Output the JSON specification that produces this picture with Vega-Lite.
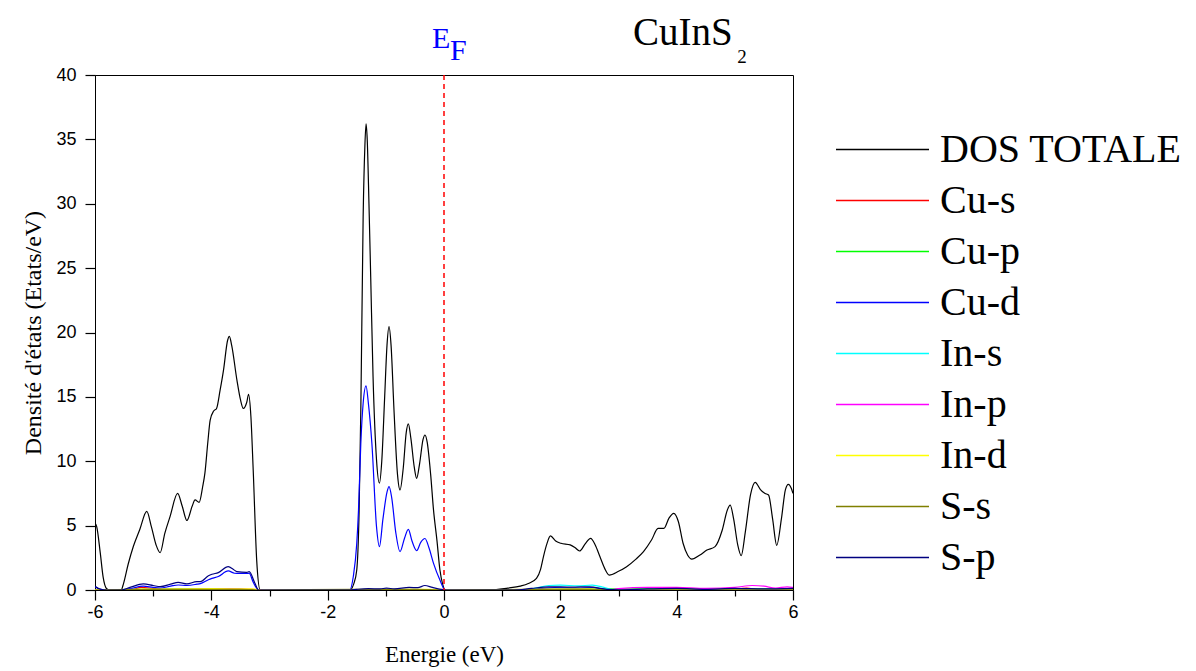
{
"$schema":"https://vega.github.io/schema/vega-lite/v6.json",
"width":698,"height":515,
"autosize":{"type":"none"},
"padding":{"left":95,"top":75,"right":403,"bottom":81},
"background":"white",
"config":{"view":{"stroke":"black","strokeWidth":1},"axis":{"grid":false,"domainColor":"black","tickColor":"black","labelColor":"black","titleColor":"black","labelFont":"Liberation Sans","labelFontSize":18,"titleFont":"Liberation Serif","titleFontSize":23,"titleFontWeight":"normal","domainWidth":1,"tickWidth":1.2}},
"datasets":{"dos":[
{"s":"DOS TOTALE","E":-6,"v":5.2},{"s":"DOS TOTALE","E":-5.97,"v":4.9},{"s":"DOS TOTALE","E":-5.91,"v":2.9},{"s":"DOS TOTALE","E":-5.86,"v":1.0},{"s":"DOS TOTALE","E":-5.8,"v":0.1},{"s":"DOS TOTALE","E":-5.75,"v":0},{"s":"DOS TOTALE","E":-5.55,"v":0},{"s":"DOS TOTALE","E":-5.51,"v":0.5},{"s":"DOS TOTALE","E":-5.43,"v":2.0},{"s":"DOS TOTALE","E":-5.34,"v":3.4},{"s":"DOS TOTALE","E":-5.23,"v":4.7},{"s":"DOS TOTALE","E":-5.11,"v":6.1},{"s":"DOS TOTALE","E":-5.03,"v":4.9},{"s":"DOS TOTALE","E":-4.95,"v":3.5},{"s":"DOS TOTALE","E":-4.88,"v":2.9},{"s":"DOS TOTALE","E":-4.8,"v":4.4},{"s":"DOS TOTALE","E":-4.71,"v":5.7},{"s":"DOS TOTALE","E":-4.58,"v":7.5},{"s":"DOS TOTALE","E":-4.5,"v":6.5},{"s":"DOS TOTALE","E":-4.42,"v":5.4},{"s":"DOS TOTALE","E":-4.33,"v":6.5},{"s":"DOS TOTALE","E":-4.28,"v":7.0},{"s":"DOS TOTALE","E":-4.21,"v":6.8},{"s":"DOS TOTALE","E":-4.15,"v":8.0},{"s":"DOS TOTALE","E":-4.11,"v":9.1},{"s":"DOS TOTALE","E":-4.06,"v":11.5},{"s":"DOS TOTALE","E":-4.02,"v":13.2},{"s":"DOS TOTALE","E":-3.96,"v":13.9},{"s":"DOS TOTALE","E":-3.91,"v":14.1},{"s":"DOS TOTALE","E":-3.85,"v":15.5},{"s":"DOS TOTALE","E":-3.79,"v":17.1},{"s":"DOS TOTALE","E":-3.72,"v":19.4},{"s":"DOS TOTALE","E":-3.69,"v":19.7},{"s":"DOS TOTALE","E":-3.65,"v":19.0},{"s":"DOS TOTALE","E":-3.56,"v":16.3},{"s":"DOS TOTALE","E":-3.5,"v":14.8},{"s":"DOS TOTALE","E":-3.45,"v":14.1},{"s":"DOS TOTALE","E":-3.39,"v":14.6},{"s":"DOS TOTALE","E":-3.36,"v":15.2},{"s":"DOS TOTALE","E":-3.32,"v":13.5},{"s":"DOS TOTALE","E":-3.28,"v":9.3},{"s":"DOS TOTALE","E":-3.22,"v":2.3},{"s":"DOS TOTALE","E":-3.16,"v":0},{"s":"DOS TOTALE","E":-1.62,"v":0},{"s":"DOS TOTALE","E":-1.55,"v":0.5},{"s":"DOS TOTALE","E":-1.5,"v":1.55},{"s":"DOS TOTALE","E":-1.46,"v":6},{"s":"DOS TOTALE","E":-1.43,"v":14},{"s":"DOS TOTALE","E":-1.39,"v":29},{"s":"DOS TOTALE","E":-1.36,"v":34.5},{"s":"DOS TOTALE","E":-1.34,"v":36.2},{"s":"DOS TOTALE","E":-1.32,"v":35},{"s":"DOS TOTALE","E":-1.29,"v":30},{"s":"DOS TOTALE","E":-1.26,"v":24.3},{"s":"DOS TOTALE","E":-1.22,"v":16.6},{"s":"DOS TOTALE","E":-1.16,"v":10.1},{"s":"DOS TOTALE","E":-1.11,"v":8.3},{"s":"DOS TOTALE","E":-1.07,"v":10},{"s":"DOS TOTALE","E":-1.02,"v":15},{"s":"DOS TOTALE","E":-0.98,"v":19},{"s":"DOS TOTALE","E":-0.945,"v":20.45},{"s":"DOS TOTALE","E":-0.91,"v":19},{"s":"DOS TOTALE","E":-0.86,"v":14},{"s":"DOS TOTALE","E":-0.8,"v":9},{"s":"DOS TOTALE","E":-0.756,"v":7.77},{"s":"DOS TOTALE","E":-0.7,"v":9.5},{"s":"DOS TOTALE","E":-0.65,"v":12.2},{"s":"DOS TOTALE","E":-0.613,"v":12.9},{"s":"DOS TOTALE","E":-0.57,"v":11.8},{"s":"DOS TOTALE","E":-0.51,"v":9.5},{"s":"DOS TOTALE","E":-0.47,"v":8.67},{"s":"DOS TOTALE","E":-0.42,"v":9.8},{"s":"DOS TOTALE","E":-0.36,"v":11.7},{"s":"DOS TOTALE","E":-0.327,"v":12.04},{"s":"DOS TOTALE","E":-0.29,"v":11.5},{"s":"DOS TOTALE","E":-0.23,"v":9},{"s":"DOS TOTALE","E":-0.18,"v":6.2},{"s":"DOS TOTALE","E":-0.12,"v":3.8},{"s":"DOS TOTALE","E":-0.07,"v":1.55},{"s":"DOS TOTALE","E":-0.02,"v":0.4},{"s":"DOS TOTALE","E":0.02,"v":0},{"s":"DOS TOTALE","E":0.8,"v":0},{"s":"DOS TOTALE","E":1.1,"v":0.15},{"s":"DOS TOTALE","E":1.31,"v":0.3},{"s":"DOS TOTALE","E":1.45,"v":0.5},{"s":"DOS TOTALE","E":1.59,"v":0.9},{"s":"DOS TOTALE","E":1.66,"v":1.6},{"s":"DOS TOTALE","E":1.71,"v":2.6},{"s":"DOS TOTALE","E":1.77,"v":3.6},{"s":"DOS TOTALE","E":1.83,"v":4.2},{"s":"DOS TOTALE","E":1.92,"v":3.8},{"s":"DOS TOTALE","E":2.01,"v":3.63},{"s":"DOS TOTALE","E":2.17,"v":3.5},{"s":"DOS TOTALE","E":2.25,"v":3.3},{"s":"DOS TOTALE","E":2.33,"v":3.03},{"s":"DOS TOTALE","E":2.43,"v":3.6},{"s":"DOS TOTALE","E":2.52,"v":4.01},{"s":"DOS TOTALE","E":2.6,"v":3.5},{"s":"DOS TOTALE","E":2.68,"v":2.6},{"s":"DOS TOTALE","E":2.76,"v":1.7},{"s":"DOS TOTALE","E":2.84,"v":1.16},{"s":"DOS TOTALE","E":3.0,"v":1.45},{"s":"DOS TOTALE","E":3.14,"v":1.81},{"s":"DOS TOTALE","E":3.3,"v":2.4},{"s":"DOS TOTALE","E":3.43,"v":2.98},{"s":"DOS TOTALE","E":3.57,"v":3.9},{"s":"DOS TOTALE","E":3.68,"v":4.79},{"s":"DOS TOTALE","E":3.78,"v":4.79},{"s":"DOS TOTALE","E":3.87,"v":5.6},{"s":"DOS TOTALE","E":3.95,"v":5.95},{"s":"DOS TOTALE","E":4.03,"v":5.3},{"s":"DOS TOTALE","E":4.11,"v":3.63},{"s":"DOS TOTALE","E":4.19,"v":2.7},{"s":"DOS TOTALE","E":4.26,"v":2.4},{"s":"DOS TOTALE","E":4.4,"v":2.72},{"s":"DOS TOTALE","E":4.52,"v":3.1},{"s":"DOS TOTALE","E":4.66,"v":3.37},{"s":"DOS TOTALE","E":4.78,"v":4.6},{"s":"DOS TOTALE","E":4.87,"v":6.2},{"s":"DOS TOTALE","E":4.92,"v":6.6},{"s":"DOS TOTALE","E":4.98,"v":5.5},{"s":"DOS TOTALE","E":5.05,"v":3.5},{"s":"DOS TOTALE","E":5.11,"v":2.67},{"s":"DOS TOTALE","E":5.18,"v":4.5},{"s":"DOS TOTALE","E":5.27,"v":7.4},{"s":"DOS TOTALE","E":5.35,"v":8.36},{"s":"DOS TOTALE","E":5.44,"v":7.8},{"s":"DOS TOTALE","E":5.52,"v":7.5},{"s":"DOS TOTALE","E":5.58,"v":7.38},{"s":"DOS TOTALE","E":5.65,"v":5.5},{"s":"DOS TOTALE","E":5.72,"v":3.47},{"s":"DOS TOTALE","E":5.8,"v":5.5},{"s":"DOS TOTALE","E":5.87,"v":7.8},{"s":"DOS TOTALE","E":5.92,"v":8.2},{"s":"DOS TOTALE","E":5.97,"v":7.9},{"s":"DOS TOTALE","E":6,"v":7.5},
{"s":"Cu-s","E":-6,"v":0},{"s":"Cu-s","E":-5.4,"v":0},{"s":"Cu-s","E":-5.2,"v":0.2},{"s":"Cu-s","E":-5.0,"v":0.12},{"s":"Cu-s","E":-4.8,"v":0.05},{"s":"Cu-s","E":-4.5,"v":0.05},{"s":"Cu-s","E":-3.2,"v":0},{"s":"Cu-s","E":4.9,"v":0},{"s":"Cu-s","E":5.2,"v":0.15},{"s":"Cu-s","E":5.4,"v":0.05},{"s":"Cu-s","E":6,"v":0},
{"s":"Cu-p","E":-6,"v":0},{"s":"Cu-p","E":-5.3,"v":0.05},{"s":"Cu-p","E":-4,"v":0.05},{"s":"Cu-p","E":-3.2,"v":0},{"s":"Cu-p","E":1.5,"v":0.03},{"s":"Cu-p","E":3.0,"v":0.08},{"s":"Cu-p","E":4.0,"v":0.1},{"s":"Cu-p","E":5.0,"v":0.08},{"s":"Cu-p","E":6,"v":0.1},
{"s":"Cu-d","E":-6,"v":0.25},{"s":"Cu-d","E":-5.9,"v":0.05},{"s":"Cu-d","E":-5.8,"v":0},{"s":"Cu-d","E":-5.55,"v":0},{"s":"Cu-d","E":-5.4,"v":0.1},{"s":"Cu-d","E":-5.17,"v":0.3},{"s":"Cu-d","E":-5.0,"v":0.2},{"s":"Cu-d","E":-4.88,"v":0.15},{"s":"Cu-d","E":-4.7,"v":0.3},{"s":"Cu-d","E":-4.57,"v":0.39},{"s":"Cu-d","E":-4.42,"v":0.35},{"s":"Cu-d","E":-4.25,"v":0.45},{"s":"Cu-d","E":-4.19,"v":0.5},{"s":"Cu-d","E":-4.05,"v":0.8},{"s":"Cu-d","E":-3.99,"v":0.9},{"s":"Cu-d","E":-3.88,"v":1.05},{"s":"Cu-d","E":-3.71,"v":1.48},{"s":"Cu-d","E":-3.6,"v":1.3},{"s":"Cu-d","E":-3.56,"v":1.29},{"s":"Cu-d","E":-3.39,"v":1.29},{"s":"Cu-d","E":-3.35,"v":1.3},{"s":"Cu-d","E":-3.28,"v":0.6},{"s":"Cu-d","E":-3.2,"v":0.05},{"s":"Cu-d","E":-3.15,"v":0},{"s":"Cu-d","E":-1.62,"v":0},{"s":"Cu-d","E":-1.56,"v":1.03},{"s":"Cu-d","E":-1.5,"v":3.6},{"s":"Cu-d","E":-1.47,"v":6.2},{"s":"Cu-d","E":-1.43,"v":11.4},{"s":"Cu-d","E":-1.39,"v":14.5},{"s":"Cu-d","E":-1.34,"v":15.85},{"s":"Cu-d","E":-1.3,"v":14.5},{"s":"Cu-d","E":-1.24,"v":11.4},{"s":"Cu-d","E":-1.16,"v":4.9},{"s":"Cu-d","E":-1.11,"v":3.37},{"s":"Cu-d","E":-1.05,"v":5.5},{"s":"Cu-d","E":-0.98,"v":7.6},{"s":"Cu-d","E":-0.945,"v":8.03},{"s":"Cu-d","E":-0.9,"v":7.2},{"s":"Cu-d","E":-0.83,"v":4.5},{"s":"Cu-d","E":-0.756,"v":2.98},{"s":"Cu-d","E":-0.68,"v":4.0},{"s":"Cu-d","E":-0.613,"v":4.71},{"s":"Cu-d","E":-0.55,"v":3.8},{"s":"Cu-d","E":-0.47,"v":3.05},{"s":"Cu-d","E":-0.4,"v":3.7},{"s":"Cu-d","E":-0.327,"v":4.0},{"s":"Cu-d","E":-0.26,"v":3.3},{"s":"Cu-d","E":-0.18,"v":2.07},{"s":"Cu-d","E":-0.07,"v":0.78},{"s":"Cu-d","E":0.02,"v":0},{"s":"Cu-d","E":1.3,"v":0},{"s":"Cu-d","E":1.6,"v":0.1},{"s":"Cu-d","E":1.9,"v":0.18},{"s":"Cu-d","E":2.3,"v":0.15},{"s":"Cu-d","E":2.55,"v":0.18},{"s":"Cu-d","E":2.85,"v":0},{"s":"Cu-d","E":3.2,"v":0.02},{"s":"Cu-d","E":6,"v":0.03},
{"s":"In-s","E":-6,"v":0},{"s":"In-s","E":-5,"v":0.03},{"s":"In-s","E":-4,"v":0.05},{"s":"In-s","E":-3.2,"v":0},{"s":"In-s","E":1.3,"v":0},{"s":"In-s","E":1.55,"v":0.12},{"s":"In-s","E":1.8,"v":0.35},{"s":"In-s","E":2.0,"v":0.38},{"s":"In-s","E":2.3,"v":0.32},{"s":"In-s","E":2.55,"v":0.38},{"s":"In-s","E":2.75,"v":0.2},{"s":"In-s","E":2.9,"v":0.02},{"s":"In-s","E":3.2,"v":0},{"s":"In-s","E":6,"v":0.03},
{"s":"In-p","E":-6,"v":0},{"s":"In-p","E":-4.6,"v":0.02},{"s":"In-p","E":-4.0,"v":0.08},{"s":"In-p","E":-3.7,"v":0.1},{"s":"In-p","E":-3.3,"v":0.05},{"s":"In-p","E":-3.1,"v":0},{"s":"In-p","E":2.8,"v":0},{"s":"In-p","E":3.0,"v":0.1},{"s":"In-p","E":3.5,"v":0.2},{"s":"In-p","E":4.0,"v":0.2},{"s":"In-p","E":4.5,"v":0.12},{"s":"In-p","E":5.0,"v":0.2},{"s":"In-p","E":5.3,"v":0.35},{"s":"In-p","E":5.5,"v":0.3},{"s":"In-p","E":5.7,"v":0.15},{"s":"In-p","E":5.9,"v":0.25},{"s":"In-p","E":6,"v":0.2},
{"s":"In-d","E":-6,"v":0.02},{"s":"In-d","E":-5.3,"v":0.05},{"s":"In-d","E":-4,"v":0.1},{"s":"In-d","E":-3.3,"v":0.08},{"s":"In-d","E":-3.1,"v":0},{"s":"In-d","E":-1.5,"v":0.02},{"s":"In-d","E":-0.3,"v":0.05},{"s":"In-d","E":0,"v":0},{"s":"In-d","E":1.5,"v":0.05},{"s":"In-d","E":2.5,"v":0.08},{"s":"In-d","E":2.9,"v":0},{"s":"In-d","E":6,"v":0.02},
{"s":"S-s","E":-6,"v":0},{"s":"S-s","E":-5,"v":0.05},{"s":"S-s","E":-3.5,"v":0.05},{"s":"S-s","E":-3.1,"v":0},{"s":"S-s","E":-1.5,"v":0.05},{"s":"S-s","E":-0.5,"v":0.05},{"s":"S-s","E":0,"v":0},{"s":"S-s","E":1.5,"v":0.05},{"s":"S-s","E":2.5,"v":0.05},{"s":"S-s","E":3,"v":0},{"s":"S-s","E":6,"v":0.02},
{"s":"S-p","E":-6,"v":0.3},{"s":"S-p","E":-5.9,"v":0.05},{"s":"S-p","E":-5.8,"v":0},{"s":"S-p","E":-5.55,"v":0},{"s":"S-p","E":-5.4,"v":0.2},{"s":"S-p","E":-5.17,"v":0.47},{"s":"S-p","E":-5.0,"v":0.35},{"s":"S-p","E":-4.88,"v":0.26},{"s":"S-p","E":-4.7,"v":0.45},{"s":"S-p","E":-4.57,"v":0.6},{"s":"S-p","E":-4.42,"v":0.47},{"s":"S-p","E":-4.25,"v":0.65},{"s":"S-p","E":-4.19,"v":0.65},{"s":"S-p","E":-4.05,"v":1.1},{"s":"S-p","E":-3.99,"v":1.22},{"s":"S-p","E":-3.88,"v":1.35},{"s":"S-p","E":-3.71,"v":1.81},{"s":"S-p","E":-3.62,"v":1.6},{"s":"S-p","E":-3.56,"v":1.42},{"s":"S-p","E":-3.39,"v":1.37},{"s":"S-p","E":-3.35,"v":1.42},{"s":"S-p","E":-3.25,"v":0.52},{"s":"S-p","E":-3.19,"v":0},{"s":"S-p","E":-1.62,"v":0},{"s":"S-p","E":-1.5,"v":0.05},{"s":"S-p","E":-1.3,"v":0.1},{"s":"S-p","E":-1.1,"v":0.08},{"s":"S-p","E":-0.99,"v":0.15},{"s":"S-p","E":-0.85,"v":0.08},{"s":"S-p","E":-0.6,"v":0.2},{"s":"S-p","E":-0.45,"v":0.18},{"s":"S-p","E":-0.33,"v":0.35},{"s":"S-p","E":-0.2,"v":0.2},{"s":"S-p","E":-0.05,"v":0.05},{"s":"S-p","E":0.05,"v":0},{"s":"S-p","E":1.2,"v":0},{"s":"S-p","E":1.5,"v":0.12},{"s":"S-p","E":1.8,"v":0.25},{"s":"S-p","E":2.2,"v":0.22},{"s":"S-p","E":2.5,"v":0.25},{"s":"S-p","E":2.8,"v":0.05},{"s":"S-p","E":3.0,"v":0.02},{"s":"S-p","E":3.5,"v":0.08},{"s":"S-p","E":4.0,"v":0.12},{"s":"S-p","E":4.5,"v":0.05},{"s":"S-p","E":5.0,"v":0.12},{"s":"S-p","E":5.5,"v":0.08},{"s":"S-p","E":6,"v":0.12}
]},
"layer":[
{"data":{"name":"dos"},"mark":{"type":"line","strokeWidth":1.2,"interpolate":"monotone","clip":true},
 "encoding":{
  "x":{"field":"E","type":"quantitative","scale":{"domain":[-6,6],"nice":false,"zero":false},
   "axis":{"title":"Energie (eV)","values":[-6,-5,-4,-3,-2,-1,0,1,2,3,4,5,6],"labelExpr":"datum.value % 2 === 0 ? '' + datum.value : ''","tickSize":{"condition":{"test":"datum.value % 2 === 0","value":10},"value":6},"labelPadding":3,"titlePadding":22,"labelOverlap":false,"labelFlush":false}},
  "y":{"field":"v","type":"quantitative","scale":{"domain":[0,40],"nice":false},
   "axis":{"title":"Densité d'états (Etats/eV)","titleFontSize":24,"values":[0,2.5,5,7.5,10,12.5,15,17.5,20,22.5,25,27.5,30,32.5,35,37.5,40],"labelExpr":"datum.value % 5 === 0 ? '' + datum.value : ''","tickSize":{"condition":{"test":"datum.value % 5 === 0","value":10},"value":6},"labelPadding":9,"titlePadding":10,"labelOverlap":false}},
  "color":{"field":"s","type":"nominal",
   "scale":{"domain":["DOS TOTALE","Cu-s","Cu-p","Cu-d","In-s","In-p","In-d","S-s","S-p"],"range":["#000000","#ff0000","#00ff00","#0000ff","#00ffff","#ff00ff","#ffff00","#808000","#000080"]},
   "legend":{"orient":"none","legendX":740,"legendY":49,"title":null,"symbolType":"stroke","symbolSize":8649,"symbolStrokeWidth":1.5,"labelFont":"Liberation Serif","labelFontSize":40,"labelColor":"black","labelOffset":10,"clipHeight":51,"rowPadding":0,"padding":0,"labelLimit":400}}}},
{"data":{"values":[{}]},"mark":{"type":"rule","color":"#ff0000","strokeDash":[5,4],"strokeWidth":1.5},"encoding":{"x":{"datum":0}}},
{"data":{"values":[{}]},"mark":{"type":"text","text":"E","font":"Liberation Serif","fontSize":30,"color":"#0000ff","align":"left","baseline":"alphabetic"},"encoding":{"x":{"datum":-0.206},"y":{"datum":42.1}}},
{"data":{"values":[{}]},"mark":{"type":"text","text":"F","font":"Liberation Serif","fontSize":30,"color":"#0000ff","align":"left","baseline":"alphabetic"},"encoding":{"x":{"datum":0.103},"y":{"datum":41.17}}},
{"data":{"values":[{}]},"mark":{"type":"text","text":"CuInS","font":"Liberation Serif","fontSize":39,"color":"black","align":"left","baseline":"alphabetic"},"encoding":{"x":{"datum":3.25},"y":{"datum":42.33}}},
{"data":{"values":[{}]},"mark":{"type":"text","text":"2","font":"Liberation Serif","fontSize":19,"color":"black","align":"left","baseline":"alphabetic"},"encoding":{"x":{"datum":5.04},"y":{"datum":40.93}}}
]
}
